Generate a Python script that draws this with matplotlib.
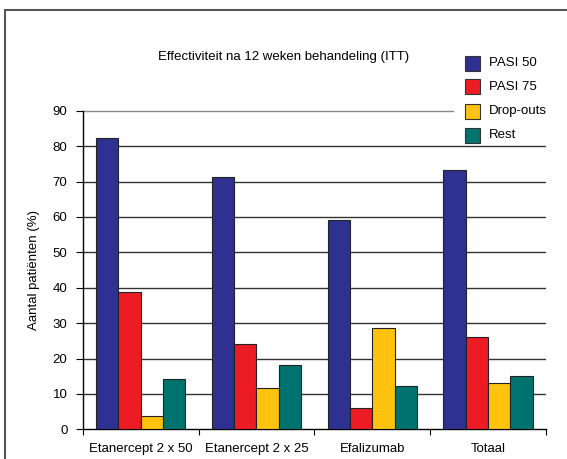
import numpy as np
import matplotlib.pyplot as plt
from matplotlib.patches import Rectangle

categories = ['Etanercept 2 x 50', 'Etanercept 2 x 25', 'Efalizumab', 'Totaal']
series_names = ['PASI 50', 'PASI 75', 'Drop-outs', 'Rest']
pasi50 = [82.4, 71.3, 59.2, 73.2]
pasi75 = [38.9, 24.2, 6.1, 26.1]
dropouts = [3.7, 11.8, 28.7, 13.0]
rest = [14.2, 18.3, 12.2, 15.0]
yticks = [0, 10, 20, 30, 40, 50, 60, 70, 80, 90]

colors = ['#2E3192', '#ED1C24', '#FFC20E', '#00736E']

plt.rcParams['font.family'] = ['Liberation Sans', 'DejaVu Sans']

W, H = 567, 459
fig = plt.figure(figsize=(W / 100, H / 100), dpi=100)
ax = fig.add_axes([0.146, 0.0647, 0.817, 0.694])

x = np.arange(len(categories))
bw = 0.193
values = [pasi50, pasi75, dropouts, rest]
for i, (vals, col, name) in enumerate(zip(values, colors, series_names)):
    ax.bar(x + (i - 1.5) * bw, vals, width=bw, color=col, edgecolor='#222222',
           linewidth=0.8, label=name, zorder=3)

ax.set_xlim(-0.5, len(categories) - 0.5)
ax.set_ylim(0, 90)

# horizontal grid lines, the top one stops short of the legend
for t in yticks[1:]:
    if t == 90:
        ax.axhline(t, xmin=0, xmax=0.80, color='#888888', linewidth=1.0, zorder=1, clip_on=False)
    else:
        ax.axhline(t, color='#333333', linewidth=1.0, zorder=1)

ax.set_yticks(yticks)
ax.set_xticks(x)
ax.set_xticklabels(categories)
ax.set_xticks(np.arange(len(categories) + 1) - 0.5, minor=True)
ax.tick_params(axis='x', which='major', length=0, pad=10, labelsize=9.5)
ax.tick_params(axis='x', which='minor', length=4, width=0.8, direction='out')
ax.tick_params(axis='y', length=5, width=0.8, labelsize=9.5, pad=6)

for s in ['top', 'right']:
    ax.spines[s].set_visible(False)
ax.spines['left'].set_linewidth(1.0)
ax.spines['bottom'].set_linewidth(1.0)
ax.spines['left'].set_zorder(4)

ax.set_ylabel('Aantal patiënten (%)', fontsize=9.5, labelpad=9)

fig.text(284 / W, 1 - 57 / H, 'Effectiviteit na 12 weken behandeling (ITT)',
         ha='center', va='center', fontsize=9.5)

# legend: coloured squares with labels
for i, (name, col) in enumerate(zip(series_names, colors)):
    yc = 63 + i * 24
    fig.patches.append(Rectangle((465 / W, 1 - (yc + 7.5) / H), 15 / W, 15 / H,
                                 transform=fig.transFigure, facecolor=col,
                                 edgecolor='#333333', linewidth=0.8))
    fig.text(489 / W, 1 - yc / H, name, ha='left', va='center', fontsize=9.5)

# outer frame of the figure
fig.patches.append(Rectangle((0.009, -0.1), 1.2, 1.078, transform=fig.transFigure,
                             fill=False, edgecolor='#555555', linewidth=1.5))

plt.savefig('out.png', dpi=100)
